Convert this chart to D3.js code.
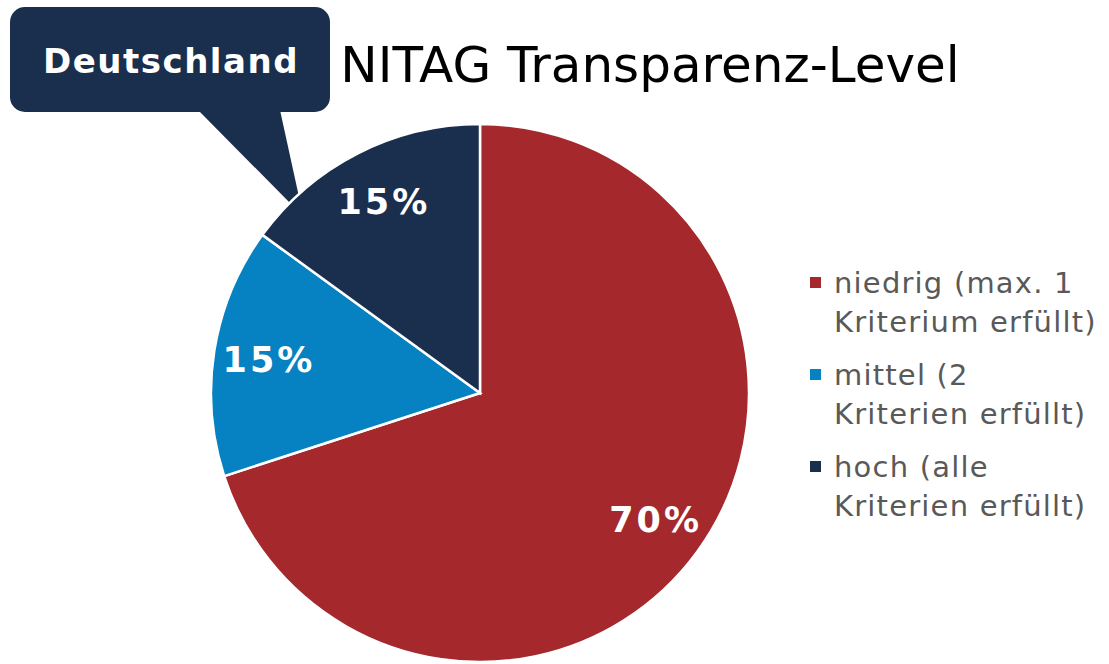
<!DOCTYPE html>
<html><head><meta charset="utf-8">
<script src="https://cdn.jsdelivr.net/npm/d3@7"></script>
<style>body{margin:0;background:#fff}svg{display:block}</style>
</head><body>
<svg id="c" width="1109" height="664"></svg>
<script>
const categories = ["niedrig (max. 1|Kriterium erfüllt)", "mittel (2|Kriterien erfüllt)", "hoch (alle|Kriterien erfüllt)"];
const values = [70, 15, 15];
const labels = ["70%", "15%", "15%"];
const colors = ["#a4282c", "#0681c1", "#1a2e4d"];
const title = "NITAG Transparenz-Level";
const callout = "Deutschland";

const svg = d3.select("#c");
const font = "DejaVu Sans, Verdana, sans-serif";
const cx = 480, cy = 393, R = 269;

// callout
const g0 = svg.append("g");
g0.append("rect").attr("x", 10).attr("y", 7).attr("width", 320).attr("height", 105).attr("rx", 15).attr("fill", "#1a2e4d");
g0.append("path").attr("d", "M198,110 L280,110 L299,197 L290,203 Z").attr("fill", "#1a2e4d");
g0.append("text").attr("x", 171).attr("y", 73).attr("text-anchor", "middle")
  .attr("font-family", font).attr("font-weight", "bold").attr("font-size", 34)
  .attr("letter-spacing", 1.5).attr("fill", "#fff").text(callout);

svg.append("text").attr("x", 650).attr("y", 82).attr("text-anchor", "middle")
  .attr("font-family", font).attr("font-size", 50).attr("fill", "#000").text(title);

const pie = d3.pie().sort(null).value(d => d);
const arcs = pie(values);
const arc = d3.arc().innerRadius(0).outerRadius(R);
const labelArc = d3.arc().innerRadius(R * 0.8).outerRadius(R * 0.8);
const g = svg.append("g").attr("transform", `translate(${cx},${cy})`);
g.selectAll("path.s").data(arcs).join("path").attr("class", "s")
  .attr("d", arc).attr("fill", (d, i) => colors[i]).attr("stroke", "#fff").attr("stroke-width", 2.5);

g.selectAll("text.l").data(arcs).join("text").attr("class", "l")
  .attr("x", d => labelArc.centroid(d)[0] + 1.5)
  .attr("y", d => labelArc.centroid(d)[1])
  .attr("text-anchor", "middle").attr("dy", "0.36em")
  .attr("font-family", font).attr("font-weight", "bold").attr("font-size", 35)
  .attr("letter-spacing", 3).attr("fill", "#fff")
  .text((d, i) => labels[i]);

// legend
const lg = svg.append("g").attr("transform", "translate(810,0)");
categories.forEach((c, i) => {
  const y0 = 293 + i * 92;
  lg.append("rect").attr("x", 0).attr("y", y0 - 16).attr("width", 11).attr("height", 11).attr("fill", colors[i]);
  c.split("|").forEach((t, j) => {
    lg.append("text").attr("x", 24).attr("y", y0 + j * 39)
      .attr("font-family", font).attr("font-size", 29).attr("letter-spacing", 1.2)
      .attr("fill", "#595959").text(t);
  });
});
</script>
</body></html>
